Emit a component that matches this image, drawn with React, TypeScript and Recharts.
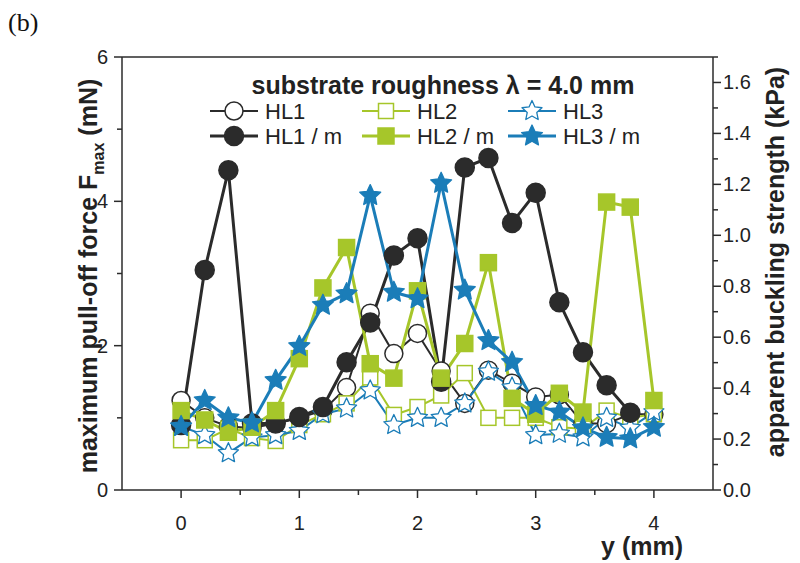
import React from 'react'
import { LineChart, Line, XAxis, YAxis, ReferenceLine } from 'recharts'

// positions along the sample (mm)
const yPos = [0, 0.2, 0.4, 0.6, 0.8, 1.0, 1.2, 1.4, 1.6, 1.8, 2.0, 2.2, 2.4, 2.6, 2.8, 3.0, 3.2, 3.4, 3.6, 3.8, 4.0]

// max pull-off force (mN)
const hl1 = [1.24, 1.0, 0.88, 0.86, 0.92, 1.0, 1.1, 1.42, 2.45, 1.89, 2.17, 1.65, 1.2, 1.66, 1.48, 1.29, 1.32, 0.92, 0.92, 1.05, 1.05]
const hl2 = [0.69, 0.69, 0.85, 0.72, 0.68, 0.9, 1.05, 1.2, 1.56, 1.04, 1.15, 1.31, 1.62, 1.0, 1.0, 1.0, 0.87, 0.85, 1.1, 1.0, 1.05]
const hl3 = [0.88, 0.76, 0.51, 0.73, 0.76, 0.82, 1.05, 1.13, 1.38, 0.9, 1.0, 1.0, 1.2, 1.64, 1.42, 0.76, 0.78, 0.73, 1.0, 0.86, 1.08]
const hl1m = [0.9, 3.05, 4.43, 0.92, 0.92, 1.01, 1.15, 1.77, 2.32, 3.25, 3.49, 1.5, 4.47, 4.6, 3.7, 4.12, 2.6, 1.91, 1.45, 1.07, null]
const hl2m = [1.1, 0.97, 0.8, 0.87, 1.1, 1.82, 2.8, 3.36, 1.75, 1.55, 2.76, 1.55, 2.03, 3.15, 1.27, 1.05, 1.34, 1.08, 3.99, 3.92, 1.24]
const hl3m = [0.88, 1.24, 1.0, 0.93, 1.52, 1.99, 2.56, 2.72, 4.08, 2.74, 2.65, 4.25, 2.77, 2.07, 1.77, 1.17, 1.08, 0.86, 0.73, 0.71, 0.87]

const xTicks = [0, 0.5, 1, 1.5, 2, 2.5, 3, 3.5, 4]
const leftTicks = [0, 1, 2, 3, 4, 5, 6]
const rightTicks = [0, 0.1, 0.2, 0.3, 0.4, 0.5, 0.6, 0.7, 0.8, 0.9, 1.0, 1.1, 1.2, 1.3, 1.4, 1.5, 1.6, 1.7]

const data = yPos.map((x, i) => ({
  x,
  hl1: hl1[i],
  hl2: hl2[i],
  hl3: hl3[i],
  hl1m: hl1m[i],
  hl2m: hl2m[i],
  hl3m: hl3m[i],
}))

const DARK = '#2b2b2b'
const GREEN = '#a6c62a'
const BLUE = '#1b7db8'
const FONT = '"Liberation Sans", Arial, sans-serif'

const starPath = (cx: number, cy: number, R: number) => {
  const r = R * 0.48
  let d = ''
  for (let k = 0; k < 10; k++) {
    const rad = k % 2 === 0 ? R : r
    const a = -Math.PI / 2 + (k * Math.PI) / 5
    d += (k === 0 ? 'M' : 'L') + (cx + rad * Math.cos(a)).toFixed(2) + ',' + (cy + rad * Math.sin(a)).toFixed(2)
  }
  return d + 'Z'
}

const Marker = ({ cx, cy, shape, color, filled }: any) => {
  if (shape === 'circle') {
    return <circle cx={cx} cy={cy} r={filled ? 9.5 : 9} fill={filled ? color : '#fff'} stroke={color} strokeWidth={1.5} />
  }
  if (shape === 'square') {
    const s = filled ? 16 : 15
    return <rect x={cx - s / 2} y={cy - s / 2} width={s} height={s} fill={filled ? color : '#fff'} stroke={color} strokeWidth={1.5} />
  }
  return <path d={starPath(cx, cy, filled ? 11 : 10.5)} fill={filled ? color : '#fff'} stroke={color} strokeWidth={1.3} strokeLinejoin="round" />
}

const makeDot = (shape: string, color: string, filled: boolean) => (p: any) => {
  if (p.cy == null || p.value == null) return <g key={p.index} />
  return <Marker key={p.index} cx={p.cx} cy={p.cy} shape={shape} color={color} filled={filled} />
}

const XTick = (props: any) => {
  const { x, y, payload } = props
  const major = Number.isInteger(payload.value)
  return (
    <g>
      <line x1={x} x2={x} y1={y} y2={y + (major ? 8 : 5)} stroke={DARK} strokeWidth={1.5} />
      {major && (
        <text x={x} y={y + 40} textAnchor="middle" fontSize={20} fontFamily={FONT} fill="#222">
          {payload.value}
        </text>
      )}
    </g>
  )
}

const LeftTick = (props: any) => {
  const { x, y, payload } = props
  const major = payload.value % 2 === 0
  return (
    <g>
      <line x1={x} x2={x - (major ? 8 : 5)} y1={y} y2={y} stroke={DARK} strokeWidth={1.5} />
      {major && (
        <text x={x - 14} y={y + 7} textAnchor="end" fontSize={20} fontFamily={FONT} fill="#222">
          {payload.value}
        </text>
      )}
    </g>
  )
}

const RightTick = (props: any) => {
  const { x, y, payload } = props
  const v = Math.round(payload.value * 10)
  const major = v % 2 === 0 && v <= 16
  return (
    <g>
      <line x1={x} x2={x + (major ? 8 : 5)} y1={y} y2={y} stroke={DARK} strokeWidth={1.5} />
      {major && (
        <text x={x + 10} y={y + 7} textAnchor="start" fontSize={20} fontFamily={FONT} fill="#222">
          {(v / 10).toFixed(1)}
        </text>
      )}
    </g>
  )
}

const legendItems = [
  { name: 'HL1', shape: 'circle', color: DARK, filled: false, x: 210, y: 111 },
  { name: 'HL2', shape: 'square', color: GREEN, filled: false, x: 362, y: 111 },
  { name: 'HL3', shape: 'star', color: BLUE, filled: false, x: 508, y: 111 },
  { name: 'HL1 / m', shape: 'circle', color: DARK, filled: true, x: 210, y: 136 },
  { name: 'HL2 / m', shape: 'square', color: GREEN, filled: true, x: 362, y: 136 },
  { name: 'HL3 / m', shape: 'star', color: BLUE, filled: true, x: 508, y: 136 },
]

const Overlay = () => (
  <svg width={800} height={563} style={{ position: 'absolute', left: 0, top: 0, pointerEvents: 'none' }}>
    <text x={8} y={31} fontSize={26} fontFamily='"Liberation Serif", "Times New Roman", serif' fill="#111">(b)</text>
    <text
      transform="translate(97,276) rotate(-90)"
      textAnchor="middle"
      fontSize={25}
      fontWeight="bold"
      fontFamily={FONT}
      fill="#222"
    >
      maximum pull-off force F<tspan fontSize={16} dy={7}>max</tspan>
      <tspan dy={-7}> (mN)</tspan>
    </text>
    <text
      transform="translate(784,262) rotate(-90)"
      textAnchor="middle"
      fontSize={25}
      fontWeight="bold"
      fontFamily={FONT}
      fill="#222"
    >
      apparent buckling strength (kPa)
    </text>
    <text x={683} y={555} textAnchor="end" fontSize={25} fontWeight="bold" fontFamily={FONT} fill="#222">
      y (mm)
    </text>
    <text x={443} y={94} textAnchor="middle" fontSize={25} fontWeight="bold" fontFamily={FONT} fill="#222">
      substrate roughness λ = 4.0 mm
    </text>
    {legendItems.map(it => (
      <g key={it.name}>
        <line x1={it.x} x2={it.x + 48} y1={it.y} y2={it.y} stroke={it.color} strokeWidth={it.filled ? 3 : 2} />
        <Marker cx={it.x + 24} cy={it.y} shape={it.shape} color={it.color} filled={it.filled} />
        <text x={it.x + 55} y={it.y + 8} fontSize={22} fontFamily={FONT} fill="#222">
          {it.name}
        </text>
      </g>
    ))}
  </svg>
)

const series = [
  { key: 'hl1', shape: 'circle', color: DARK, filled: false },
  { key: 'hl2', shape: 'square', color: GREEN, filled: false },
  { key: 'hl3', shape: 'star', color: BLUE, filled: false },
  { key: 'hl1m', shape: 'circle', color: DARK, filled: true },
  { key: 'hl2m', shape: 'square', color: GREEN, filled: true },
  { key: 'hl3m', shape: 'star', color: BLUE, filled: true },
]

const App: React.FC = () => {
  return (
    <div style={{ position: 'absolute', left: 0, top: 0, width: 800, height: 563, background: '#fff' }}>
      <LineChart
        width={800}
        height={563}
        data={data}
        margin={{ top: 57, right: 37, left: 52, bottom: 33 }}
      >
        <XAxis
          dataKey="x"
          type="number"
          domain={[-0.5, 4.5]}
          ticks={xTicks}
          interval={0}
          tickSize={0}
          tickMargin={0}
          tickLine={false}
          tick={<XTick />}
          height={40}
          axisLine={{ stroke: DARK, strokeWidth: 1.5 }}
        />
        <YAxis
          yAxisId="left"
          type="number"
          domain={[0, 6]}
          ticks={leftTicks}
          interval={0}
          tickSize={0}
          tickMargin={0}
          tickLine={false}
          tick={<LeftTick />}
          width={70}
          axisLine={{ stroke: DARK, strokeWidth: 1.5 }}
        />
        <YAxis
          yAxisId="right"
          orientation="right"
          type="number"
          domain={[0, 1.7]}
          allowDataOverflow
          ticks={rightTicks}
          interval={0}
          tickSize={0}
          tickMargin={0}
          tickLine={false}
          tick={<RightTick />}
          width={50}
          axisLine={{ stroke: DARK, strokeWidth: 1.5 }}
        />
        <ReferenceLine yAxisId="left" y={6} stroke={DARK} strokeWidth={1.5} ifOverflow="extendDomain" />
        {/* carrier series for the right-hand axis (not drawn) */}
        <Line
          yAxisId="right"
          dataKey="hl1"
          stroke="none"
          strokeOpacity={0}
          dot={false}
          activeDot={false}
          legendType="none"
          isAnimationActive={false}
        />
        {series.map(s => (
          <Line
            key={s.key}
            yAxisId="left"
            type="linear"
            dataKey={s.key}
            stroke={s.color}
            strokeWidth={s.filled ? 3 : 2}
            dot={makeDot(s.shape, s.color, s.filled)}
            activeDot={false}
            isAnimationActive={false}
            connectNulls={false}
          />
        ))}
      </LineChart>
      <Overlay />
    </div>
  )
}

export default App
